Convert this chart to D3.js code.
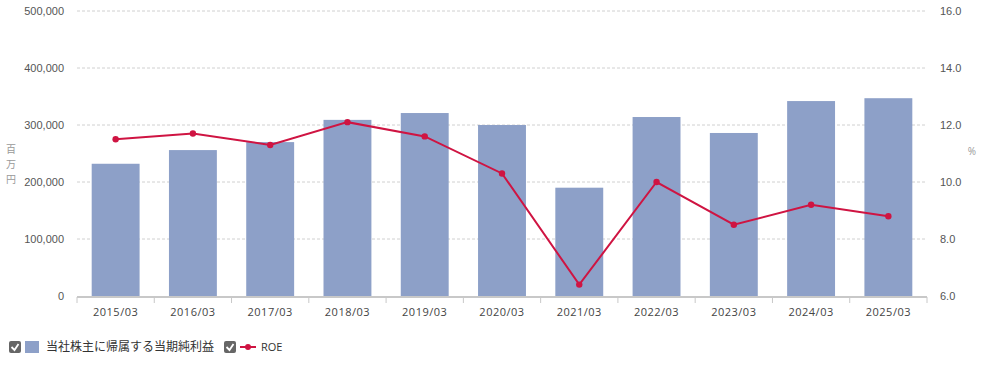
<!DOCTYPE html>
<html>
<head>
<meta charset="utf-8">
<script src="https://cdn.jsdelivr.net/npm/d3@7"></script>
<style>
  body { margin: 0; background: #fff; font-family: "Open Sans", "Noto Sans CJK JP", sans-serif; }
  .grid line { stroke: #d0d0d0; stroke-dasharray: 3,2; }
  .tick text { fill: #555; font-size: 11px; }
</style>
</head>
<body>
<div class="chart"></div>
<script>
const years = ["2015/03","2016/03","2017/03","2018/03","2019/03","2020/03","2021/03","2022/03","2023/03","2024/03","2025/03"];
const netIncome = [232000, 256000, 270000, 309000, 321000, 300000, 190000, 314000, 286000, 342000, 347000];
const roe = [11.5, 11.7, 11.3, 12.1, 11.6, 10.3, 6.4, 10.0, 8.5, 9.2, 8.8];
const leftTicks = [0, 100000, 200000, 300000, 400000, 500000];
const rightTicks = [6, 8, 10, 12, 14, 16];

const width = 987, height = 366;
const margin = {left: 77, right: 60, top: 11, bottom: 70};

var svg = d3.select(".chart").append("svg")
    .attr("width", width)
    .attr("height", height);

var x = d3.scaleBand().domain(years).range([margin.left, width - margin.right]).paddingInner(0.38).paddingOuter(0.19);
var yL = d3.scaleLinear().domain([0, 500000]).range([height - margin.bottom, margin.top]);
var yR = d3.scaleLinear().domain([6, 16]).range([height - margin.bottom, margin.top]);

// gridlines
svg.append("g").attr("class", "grid")
  .selectAll("line").data(leftTicks.slice(1)).enter().append("line")
  .attr("x1", margin.left).attr("x2", width - margin.right)
  .attr("y1", d => yL(d)).attr("y2", d => yL(d));

// bars
svg.selectAll(".bar").data(netIncome).enter().append("rect")
  .attr("class", "bar")
  .attr("x", (d, i) => x(years[i]))
  .attr("width", x.bandwidth())
  .attr("y", d => yL(d))
  .attr("height", d => yL(0) - yL(d))
  .attr("fill", "#8da0c8");

// left axis
var left = svg.append("g").attr("transform", "translate(" + (margin.left - 10) + ",0)")
  .call(d3.axisLeft(yL).tickValues(leftTicks).tickSize(0).tickFormat(d3.format(",")));
left.select(".domain").remove();

// right axis
var right = svg.append("g").attr("transform", "translate(" + (width - margin.right + 10) + ",0)")
  .call(d3.axisRight(yR).tickValues(rightTicks).tickSize(0).tickFormat(d3.format(".1f")));
right.select(".domain").remove();

// x axis
var step = x.step();
var xa = svg.append("g").attr("transform", "translate(0," + yL(0) + ")");
xa.append("line").attr("x1", margin.left).attr("x2", width - margin.right)
  .attr("y1", 1).attr("y2", 1).attr("stroke", "#c8c8c8").attr("stroke-width", 2);
xa.selectAll(".xt").data(d3.range(years.length + 1)).enter().append("line")
  .attr("x1", i => margin.left + i * step).attr("x2", i => margin.left + i * step)
  .attr("y1", 1).attr("y2", 7).attr("stroke", "#c8c8c8");
xa.selectAll(".xl").data(years).enter().append("text")
  .attr("x", d => x(d) + x.bandwidth() / 2)
  .attr("y", 20)
  .attr("text-anchor", "middle")
  .attr("fill", "#444").attr("font-size", "11px")
  .style("letter-spacing", "0.5px")
  .text(d => d);

// line
var line = d3.line().x((d, i) => x(years[i]) + x.bandwidth() / 2).y(d => yR(d));
svg.append("path").datum(roe)
  .attr("d", line).attr("fill", "none").attr("stroke", "#cf1442").attr("stroke-width", 2);
svg.selectAll(".dot").data(roe).enter().append("circle")
  .attr("cx", (d, i) => x(years[i]) + x.bandwidth() / 2)
  .attr("cy", d => yR(d)).attr("r", 3.2).attr("fill", "#cf1442");

// axis titles
svg.append("g").selectAll("text").data(["百", "万", "円"]).enter().append("text")
  .attr("x", 11).attr("y", (d, i) => 153 + i * 15)
  .attr("text-anchor", "middle").attr("fill", "#999").attr("font-size", "10px")
  .attr("font-family", "Noto Sans CJK JP")
  .text(d => d);
svg.append("text").attr("x", 972).attr("y", 155).attr("text-anchor", "middle")
  .attr("fill", "#999").attr("font-size", "10px").text("%");

// legend
function checkbox(g, cx) {
  g.append("rect").attr("x", cx).attr("y", 341).attr("width", 12).attr("height", 12)
    .attr("rx", 2).attr("fill", "#666");
  g.append("path").attr("d", "M" + (cx + 2.5) + ",347 l3,3 l4,-6")
    .attr("fill", "none").attr("stroke", "#fff").attr("stroke-width", 1.8);
}
var lg = svg.append("g");
checkbox(lg, 9);
lg.append("rect").attr("x", 25).attr("y", 341).attr("width", 14).attr("height", 12).attr("fill", "#8da0c8");
lg.append("text").attr("x", 46).attr("y", 351).attr("fill", "#333").attr("font-size", "12px")
  .attr("font-family", "Noto Sans CJK JP").text("当社株主に帰属する当期純利益");
checkbox(lg, 224);
lg.append("line").attr("x1", 240).attr("x2", 256).attr("y1", 347).attr("y2", 347)
  .attr("stroke", "#cf1442").attr("stroke-width", 2);
lg.append("circle").attr("cx", 248).attr("cy", 347).attr("r", 3).attr("fill", "#cf1442");
lg.append("text").attr("x", 261).attr("y", 351).attr("fill", "#333").attr("font-size", "11px").text("ROE");
</script>
</body>
</html>
